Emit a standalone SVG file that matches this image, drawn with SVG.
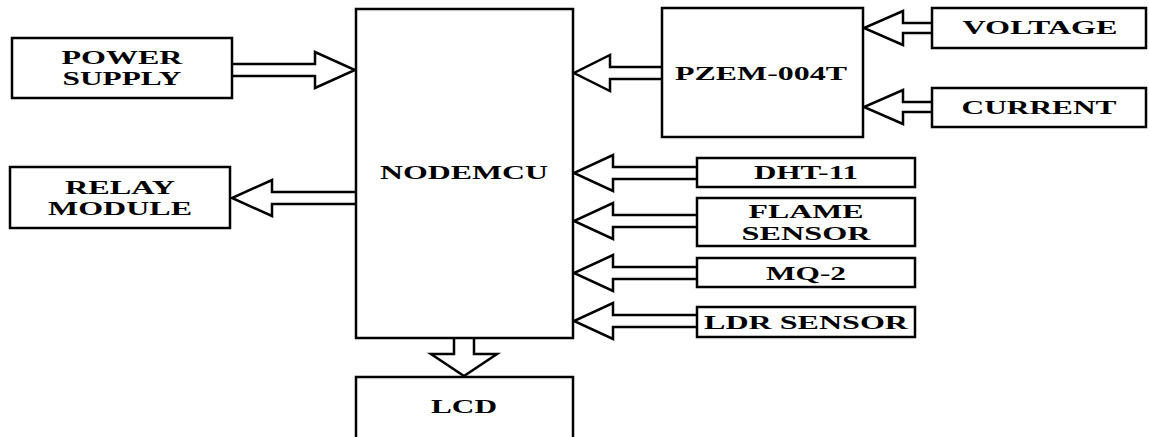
<svg xmlns="http://www.w3.org/2000/svg" width="1149" height="437" viewBox="0 0 1149 437">
<style>
.box{fill:#fff;stroke:#000;stroke-width:2.5}
.arr{fill:#fff;stroke:#000;stroke-width:2.5;stroke-linejoin:miter}
text{font-family:"Liberation Serif","Times New Roman",serif;font-weight:bold;font-size:18px;fill:#000;text-anchor:middle}
</style>
<rect width="1149" height="437" fill="#fff"/>
<g id="connectors">
<polyline class="arr" points="232,64 315,64 315,52 355,70 315,88 315,76 232,76"/>
<polyline class="arr" points="356,192 272,192 272,180 232,198 272,216 272,204 356,204"/>
<polyline class="arr" points="662,67 610,67 610,55 574,73 610,91 610,79 662,79"/>
<polyline class="arr" points="932,23 903,23 903,11 864,28 903,45 903,33 932,33"/>
<polyline class="arr" points="932,102 903,102 903,90 864,107 903,124 903,112 932,112"/>
<polyline class="arr" points="697,167 613,167 613,155 574,173 613,191 613,179 697,179"/>
<polyline class="arr" points="697,215 613,215 613,203 574,221 613,239 613,227 697,227"/>
<polyline class="arr" points="697,267 613,267 613,255 574,273 613,291 613,279 697,279"/>
<polyline class="arr" points="697,315 613,315 613,303 574,321 613,339 613,327 697,327"/>
<polyline class="arr" points="454,338 454,354 431,354 464,376 497,354 474,354 474,338"/>
</g>
<g id="nodemcu"><rect class="box" x="356" y="9" width="217" height="329"/><text x="464" y="179" textLength="168" lengthAdjust="spacingAndGlyphs">NODEMCU</text></g>
<g id="power"><rect class="box" x="12" y="38" width="220" height="60"/><text x="122" y="64" textLength="121" lengthAdjust="spacingAndGlyphs">POWER</text><text x="122" y="85" textLength="119" lengthAdjust="spacingAndGlyphs">SUPPLY</text></g>
<g id="relay"><rect class="box" x="10" y="167" width="220" height="61"/><text x="120" y="194" textLength="110" lengthAdjust="spacingAndGlyphs">RELAY</text><text x="120" y="215" textLength="144" lengthAdjust="spacingAndGlyphs">MODULE</text></g>
<g id="pzem"><rect class="box" x="662" y="8" width="201" height="129"/><text x="761" y="80" textLength="172" lengthAdjust="spacingAndGlyphs">PZEM-004T</text></g>
<g id="voltage"><rect class="box" x="932" y="8" width="214" height="40"/><text x="1040" y="34" textLength="155" lengthAdjust="spacingAndGlyphs">VOLTAGE</text></g>
<g id="current"><rect class="box" x="932" y="88" width="214" height="39"/><text x="1039" y="114" textLength="155" lengthAdjust="spacingAndGlyphs">CURRENT</text></g>
<g id="dht"><rect class="box" x="697" y="158" width="218" height="29"/><text x="806" y="179" textLength="104" lengthAdjust="spacingAndGlyphs">DHT-11</text></g>
<g id="flame"><rect class="box" x="697" y="198" width="218" height="48"/><text x="806" y="218" textLength="115" lengthAdjust="spacingAndGlyphs">FLAME</text><text x="806" y="240" textLength="129" lengthAdjust="spacingAndGlyphs">SENSOR</text></g>
<g id="mq2"><rect class="box" x="697" y="258" width="218" height="29"/><text x="806" y="280" textLength="80" lengthAdjust="spacingAndGlyphs">MQ-2</text></g>
<g id="ldr"><rect class="box" x="697" y="307" width="218" height="30"/><text x="806" y="329" textLength="204" lengthAdjust="spacingAndGlyphs">LDR SENSOR</text></g>
<g id="lcd"><rect class="box" x="356" y="377" width="217" height="64"/><text x="464" y="413" textLength="66" lengthAdjust="spacingAndGlyphs">LCD</text></g>
</svg>
